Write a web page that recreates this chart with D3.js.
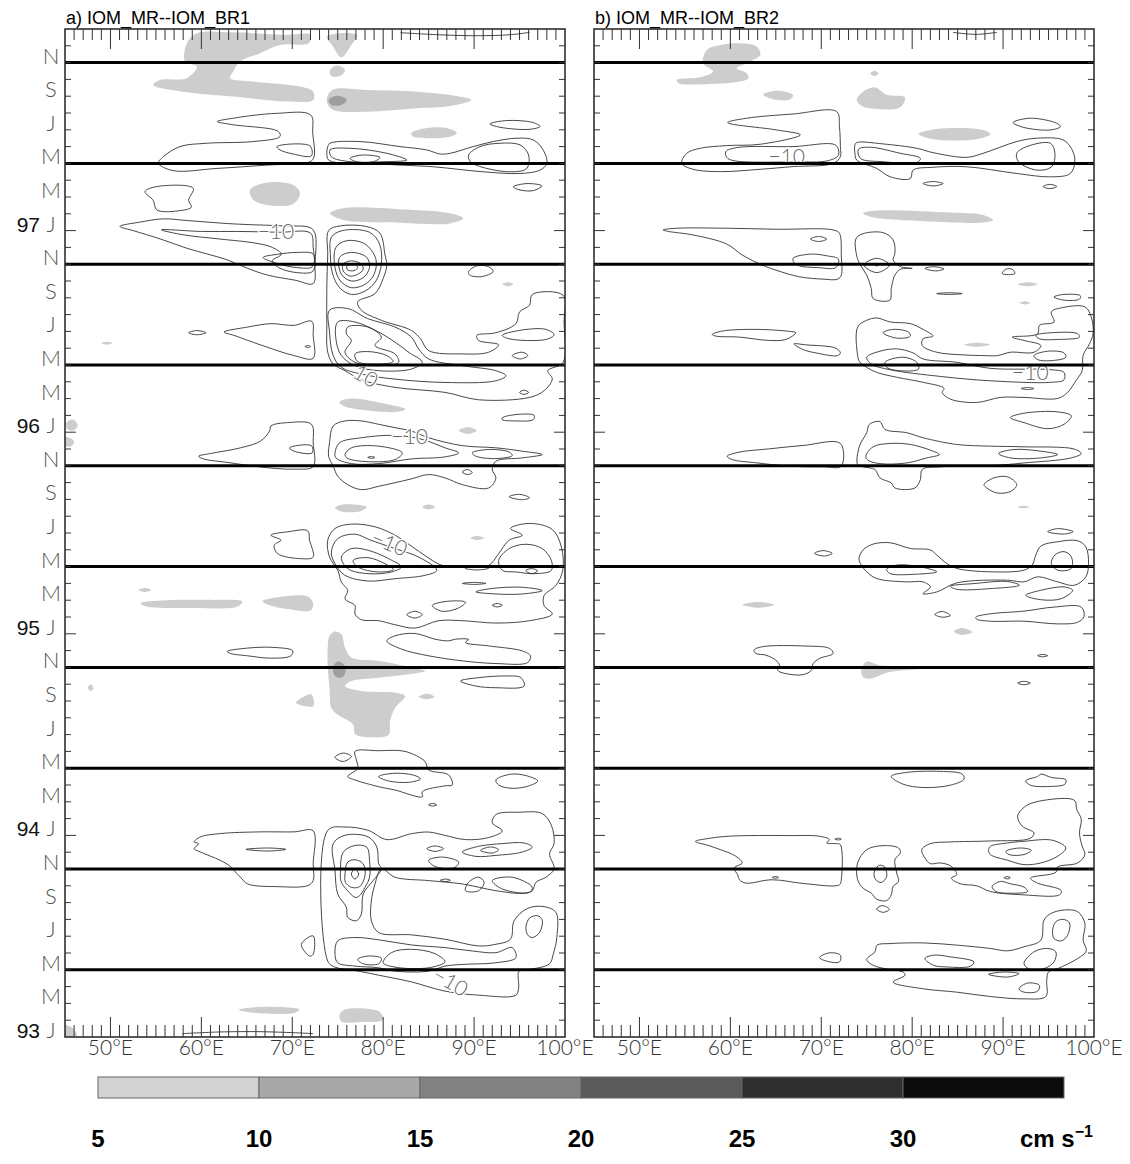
<!DOCTYPE html>
<html><head><meta charset="utf-8">
<script src="https://cdn.jsdelivr.net/npm/d3@7"></script>
<style>body{margin:0;background:#fff}svg{display:block}</style>
</head><body>
<svg id="chart" width="1130" height="1164"></svg>
<script>
// ---------------- DATA (lon °E, month index from Jan 1993) ----------------
const lonMajor = [50, 60, 70, 80, 90, 100];
const lonMinor = d3.range(46, 100);
const monthLetters = ['J','M','M','J','S','N'];
const yearLabels = ['93','94','95','96','97'];
const thickMonths = [4,10,16,22,28,34,40,46,52,58];
const panelTitles = ['a) IOM_MR--IOM_BR1', 'b) IOM_MR--IOM_BR2'];
const cbBounds = [5,10,15,20,25,30];
const cbColors = ['#d3d3d3','#a8a8a8','#828282','#5a5a5a','#2f2f2f','#0b0b0b'];
const shadeColors = ['#cdcdcd','#9e9e9e'];

// shaded areas panel a: [level, points]
const shadeA = [
 [1,[[58.2,58.06],[58.4,59.15],[59.5,59.75],[63.5,59.8],[69.0,59.65],[72.0,59.65],[71.8,59.15],[68.65,59.05],[66.45,58.56],[64.25,58.06],[63.5,57.47],[63.15,57.07],[65.7,56.87],[70.85,56.57],[72.3,56.27],[72.3,55.78],[69.4,55.68],[63.5,55.98],[58.0,56.27],[54.7,56.67],[55.45,56.97],[58.4,57.07],[59.5,57.76]]],
 [1,[[73.8,59.55],[77.1,59.65],[76.5,59.05],[75.4,58.32],[74.5,58.95]]],
 [1,[[74.15,57.52],[74.9,57.82],[75.8,57.56],[75.25,57.2],[74.3,57.2]]],
 [1,[[73.85,55.98],[74.5,56.4],[78.2,56.37],[83.7,56.27],[87.35,56.07],[89.7,55.78],[87.35,55.42],[83.7,55.28],[78.2,55.08],[74.5,55.18],[73.85,55.58]]],
 [2,[[74.0,55.78],[74.9,56.02],[76.0,55.78],[75.4,55.48],[74.3,55.48]]],
 [1,[[83.1,53.8],[84.8,54.1],[87.0,54.1],[88.1,53.8],[87.0,53.55],[84.8,53.5],[83.3,53.6]]],
 [1,[[65.35,50.42],[67.2,50.86],[70.1,50.72],[70.85,50.23],[70.1,49.59],[67.2,49.53],[65.7,49.83]]],
 [1,[[74.15,49.03],[75.6,49.33],[81.85,49.27],[87.35,49.03],[88.8,48.73],[87.35,48.43],[81.85,48.47],[75.6,48.63]]],
 [1,[[93.1,44.8],[93.7,44.92],[94.3,44.8],[93.7,44.68]]],
 [1,[[75.2,37.8],[76.5,38.0],[79.5,37.77],[82.45,37.37],[81.3,37.2],[77.6,37.33],[75.6,37.57]]],
 [1,[[45.2,36.6],[45.9,36.75],[46.4,36.4],[45.9,36.1],[45.2,36.2]]],
 [1,[[45.0,35.7],[45.6,35.65],[46.0,35.4],[45.6,35.15],[45.0,35.2]]],
 [1,[[88.3,36.1],[89.3,36.3],[90.3,36.1],[89.3,35.9]]],
 [1,[[74.7,31.5],[75.5,31.7],[78.2,31.55],[77.5,31.3],[75.3,31.3]]],
 [1,[[84.3,31.55],[85.0,31.7],[85.7,31.55],[85.0,31.4]]],
 [1,[[49.0,41.3],[49.6,41.38],[50.2,41.3],[49.6,41.22]]],
 [1,[[53.1,26.6],[53.8,26.72],[54.5,26.6],[53.8,26.48]]],
 [1,[[53.3,25.82],[55.5,25.98],[61.0,26.02],[64.5,25.92],[64.0,25.62],[59.2,25.54],[54.0,25.62]]],
 [1,[[66.7,25.94],[68.4,26.18],[71.7,26.22],[72.3,25.78],[72.0,25.38],[70.2,25.42],[68.0,25.62]]],
 [1,[[89.6,29.7],[90.3,29.82],[91.1,29.7],[90.3,29.58]]],
 [1,[[74.1,23.88],[74.7,24.14],[75.4,23.98],[75.8,23.18],[76.5,22.59],[79.5,22.39],[83.1,21.99],[84.6,21.79],[82.8,21.59],[79.5,21.39],[76.5,21.19],[75.8,20.89],[77.6,20.59],[81.3,20.49],[82.4,20.29],[81.3,19.59],[80.75,18.79],[80.6,17.99],[78.7,17.84],[76.9,18.04],[76.7,18.59],[75.0,19.19],[74.3,19.59],[74.1,20.79],[73.9,21.99],[73.9,23.18]]],
 [2,[[74.5,21.99],[75.0,22.35],[75.7,22.15],[75.85,21.69],[75.4,21.39],[74.7,21.49]]],
 [1,[[70.4,19.89],[72.1,20.39],[72.3,19.69]]],
 [1,[[83.9,20.25],[84.8,20.43],[85.65,20.25],[84.8,20.1]]],
 [1,[[47.5,20.8],[47.9,21.0],[48.1,20.7],[47.8,20.6]]],
 [1,[[64.1,1.63],[66.5,1.79],[70.8,1.63],[70.2,1.43],[65.1,1.49]]],
 [1,[[75.2,1.33],[75.8,1.63],[79.5,1.53],[80.0,1.03],[77.6,0.89],[75.4,0.93]]],
 [1,[[44.6,0.7],[45.8,0.55],[46.3,0.1],[44.6,-0.3]]]
];

// closed contours panel a
const contourA = [
 [[55.27,52.01],[55.82,52.4],[57.65,53.0],[60.6,53.2],[65.7,53.3],[68.65,53.6],[68.47,53.9],[63.5,54.3],[61.76,54.49],[63.5,54.69],[68.3,54.98],[72.03,54.88],[72.25,53.8],[72.4,52.4],[71.95,52.1],[67.2,51.9],[61.7,51.7],[56.9,51.57]],
 [[68.3,53.0],[71.95,53.04],[72.1,52.45],[70.1,52.56],[68.65,52.8]],
 [[53.8,50.32],[55.1,50.62],[59.1,50.52],[58.6,49.8],[58.9,49.4],[57.8,49.2],[55.1,49.23],[54.7,49.8]],
 [[51.05,48.25],[53.2,48.5],[55.8,48.7],[58.4,48.6],[63.5,48.4],[69.0,48.28],[71.95,48.18],[72.5,47.84],[72.5,46.0],[72.3,44.85],[70.3,45.05],[67.3,45.35],[65.1,45.75],[62.9,46.25],[60.7,46.6],[58.4,46.95],[55.5,47.5],[52.5,48.0]],
 [[55.6,48.05],[60,47.95],[64,47.95],[68.5,47.9],[72.0,47.85],[72.3,47.0],[72.3,45.6],[70.5,45.5],[68.5,45.8],[67.8,46.2],[68.8,46.6],[67.8,47.0],[66,47.25],[62,47.5],[58,47.75]],
 [[66.8,46.4],[68.3,46.05],[70.5,45.8],[72.2,45.85],[72.3,46.6],[70.5,46.7],[68.5,46.6]],
 [[73.9,46.55],[73.8,44.55],[73.8,42.56],[73.9,40.76],[74.5,40.06],[75.8,39.66],[77.6,39.12],[81.3,38.67],[86.8,38.37],[90.5,37.93],[96.1,38.07],[97.7,38.47],[98.6,39.17],[98.1,39.66],[99.8,40.16],[99.9,42.56],[99.8,44.15],[96.4,44.2],[96.1,43.56],[95.0,43.16],[94.6,42.46],[92.4,41.92],[90.3,41.76],[90.5,41.46],[92.7,41.2],[91.6,40.76],[88.7,40.66],[85.0,40.86],[84.1,41.56],[83.1,42.06],[79.8,42.66],[77.6,43.26],[77.2,43.76],[79.1,44.25],[80.0,45.15],[80.4,45.95],[80.2,46.55],[79.65,47.84],[78.2,48.24],[75.25,48.28],[74.0,48.0]],
 [[74.3,47.6],[75.5,48.0],[78.5,47.9],[79.6,47.2],[79.8,46.0],[79.2,45.0],[78,44.4],[76.5,44.2],[75.2,44.6],[74.4,45.5],[74.2,46.5]],
 [[74.8,47.0],[76,47.4],[78,47.2],[79.2,46.3],[79.0,45.4],[78,44.8],[76.5,44.6],[75.3,45.0],[74.7,45.8]],
 [[75.2,46.4],[76.5,46.7],[78.2,46.4],[78.5,45.8],[77.8,45.2],[76.5,45.0],[75.4,45.4]],
 [[75.6,46.0],[76.5,46.2],[77.6,46.0],[77.8,45.7],[77.2,45.4],[76.3,45.3],[75.6,45.6]],
 [[76.0,45.9],[76.8,46.0],[77.2,45.8],[76.8,45.62],[76.1,45.66]],
 [[74.1,43.26],[76.1,43.36],[78.3,42.76],[81.3,42.26],[83.1,41.66],[83.9,40.96],[85.0,40.36],[88.7,39.96],[92.4,39.66],[93.5,39.36],[92.4,39.06],[86.8,38.96],[81.3,39.16],[77.6,39.46],[75.4,39.86],[74.5,40.56],[74.1,41.96]],
 [[75.0,42.56],[76.9,42.56],[79.5,41.96],[81.3,41.36],[82.8,40.76],[84.3,40.16],[83.1,39.76],[79.5,39.66],[76.9,39.96],[75.4,40.56],[74.8,41.56]],
 [[76.1,42.26],[78.3,42.26],[79.8,41.66],[79.1,41.16],[81.3,40.66],[81.7,40.16],[79.5,39.96],[76.9,40.16],[75.8,40.76],[76.5,41.46],[75.95,41.86]],
 [[76.9,40.66],[78.3,40.8],[80.4,40.56],[81.1,40.2],[79.5,40.06],[77.2,40.2]],
 [[93.1,41.76],[95.0,42.06],[97.9,42.12],[98.8,41.8],[97.9,41.52],[93.85,41.56]],
 [[94.2,40.56],[95.3,40.76],[95.9,40.56],[95.1,40.36]],
 [[95.0,38.37],[95.5,38.5],[96.0,38.37],[95.5,38.25]],
 [[89.4,45.56],[90.3,45.9],[91.6,45.85],[92.1,45.56],[90.8,45.26],[89.5,45.36]],
 [[58.6,41.92],[59.5,42.05],[60.5,41.92],[59.5,41.8]],
 [[62.5,41.96],[65.1,42.26],[67.65,42.46],[70.2,42.36],[72.15,42.6],[72.3,41.76],[72.3,40.4],[70.2,40.56],[66.5,41.2],[63.6,41.76]],
 [[71.4,41.1],[71.7,41.16],[72.0,41.1],[71.7,41.04]],
 [[73.9,53.0],[74.15,53.2],[77.45,53.3],[81.85,53.0],[84.8,52.8],[86.25,52.56],[87.35,52.6],[89.9,53.0],[92.1,53.3],[94.7,53.5],[96.5,53.4],[97.6,52.8],[98.0,52.0],[97.25,51.6],[95.05,51.4],[91.0,51.5],[85.5,51.8],[81.85,51.9],[78.2,52.0],[76.35,52.0],[74.0,52.2],[73.8,52.6]],
 [[74.15,52.8],[76.35,52.9],[80.4,52.6],[82.6,52.2],[80.0,52.1],[76.35,52.1],[74.3,52.4]],
 [[76.35,52.3],[77.8,52.5],[79.65,52.35],[78.9,52.1],[77.1,52.1]],
 [[89.4,52.5],[90.65,53.0],[92.85,53.2],[95.05,53.1],[96.0,52.5],[95.8,51.7],[94.3,51.5],[91.4,51.7],[89.6,52.1]],
 [[91.75,54.35],[93.6,54.55],[96.5,54.43],[97.25,54.2],[96.15,54.03],[92.85,54.15]],
 [[94.3,50.6],[95.8,50.8],[97.45,50.66],[96.5,50.38],[95.05,50.42]],
 [[93.1,36.85],[94.6,37.05],[96.6,37.0],[96.5,36.75],[94.6,36.67],[93.1,36.75]],
 [[59.7,34.57],[61.0,34.73],[64.3,35.07],[66.5,35.47],[67.5,36.07],[67.65,36.37],[69.5,36.57],[72.1,36.47],[72.3,35.37],[72.3,33.96],[70.2,33.8],[66.5,33.93],[62.9,34.2],[60.3,34.4]],
 [[69.7,35.07],[72.1,35.2],[72.2,34.77],[70.2,34.87]],
 [[74.1,35.37],[74.5,36.37],[75.8,36.67],[77.6,36.67],[79.5,36.47],[81.3,36.27],[83.1,36.07],[85.0,35.67],[88.7,35.2],[92.4,35.07],[95.3,34.87],[97.5,34.67],[95.3,34.47],[92.4,34.27],[92.0,33.77],[92.4,33.28],[91.6,32.68],[88.7,32.88],[86.8,33.28],[85.0,33.48],[83.1,33.22],[79.5,32.78],[77.6,32.58],[76.1,32.88],[75.0,33.38],[74.5,33.98],[74.0,34.57]],
 [[74.7,34.77],[75.2,35.37],[77.6,35.67],[81.3,35.81],[84.3,35.57],[86.8,35.07],[88.3,34.77],[86.8,34.53],[83.1,34.41],[79.5,34.13],[76.5,34.13],[74.8,34.47]],
 [[75.8,34.67],[76.5,35.07],[79.5,35.17],[82.1,34.77],[81.3,34.37],[77.6,34.27],[76.0,34.47]],
 [[78.3,34.5],[78.7,34.55],[79.1,34.5],[78.7,34.45]],
 [[89.8,34.77],[91.6,34.97],[93.9,34.81],[94.2,34.61],[92.4,34.43],[90.2,34.57]],
 [[88.7,33.63],[89.25,33.78],[89.8,33.6],[89.25,33.48]],
 [[93.85,32.16],[95.0,32.3],[96.1,32.1],[95.3,31.98]],
 [[67.65,29.87],[69.5,30.07],[71.7,30.13],[71.9,29.57],[72.3,28.57],[71.0,28.47],[68.4,28.77],[68.0,29.27],[68.75,29.57]],
 [[73.9,29.57],[74.7,30.27],[76.5,30.53],[79.1,30.37],[81.3,29.87],[83.5,29.07],[85.4,28.37],[86.5,28.07],[89.05,27.98],[91.6,28.07],[92.7,28.77],[93.85,29.57],[95.3,29.87],[94.0,30.27],[96.1,30.57],[98.6,30.21],[99.6,29.17],[99.75,27.78],[99.0,26.88],[97.7,26.28],[97.7,25.68],[98.6,25.18],[96.1,24.78],[92.4,24.64],[88.7,24.78],[86.1,24.78],[83.5,24.34],[81.3,24.54],[79.5,24.78],[77.6,24.84],[76.9,25.18],[76.9,25.68],[75.8,26.08],[76.1,26.58],[75.4,27.08],[75.0,27.78],[74.1,28.57]],
 [[74.3,28.87],[75.0,29.67],[76.9,29.93],[78.5,29.6],[81.3,29.07],[83.9,28.57],[85.9,27.78],[84.6,27.48],[81.3,27.28],[78.35,27.14],[75.8,27.48],[74.7,28.17]],
 [[75.4,28.57],[76.5,29.07],[78.35,28.97],[80.6,28.47],[82.0,27.98],[80.9,27.68],[78.35,27.58],[76.1,27.88]],
 [[76.7,28.37],[78.35,28.53],[80.2,28.17],[81.1,27.82],[79.5,27.68],[77.2,27.98]],
 [[92.7,28.37],[93.85,29.07],[95.7,29.33],[97.5,29.07],[98.5,28.37],[98.5,27.78],[96.8,27.58],[94.6,27.68],[93.1,27.78]],
 [[95.7,27.78],[96.4,27.88],[97.0,27.74],[96.25,27.58]],
 [[89.0,27.9],[90.3,28.02],[91.6,27.9],[90.3,27.8]],
 [[88.7,27.0],[90.0,27.06],[91.3,27.0],[90.0,26.94]],
 [[90.2,26.5],[92.0,26.7],[95.3,26.77],[97.5,26.57],[95.3,26.37],[92.4,26.37]],
 [[85.4,25.68],[86.8,25.92],[89.05,25.88],[88.3,25.54],[86.5,25.34]],
 [[82.6,25.14],[83.5,25.34],[84.3,25.14],[83.5,24.94]],
 [[92.0,25.7],[92.55,25.8],[93.1,25.7],[92.55,25.6]],
 [[62.85,22.95],[65.1,23.15],[68.0,23.19],[70.05,22.99],[69.85,22.69],[67.6,22.55],[65.1,22.69],[63.2,22.83]],
 [[80.4,23.58],[81.3,23.88],[83.5,24.02],[85.7,23.68],[87.2,23.58],[87.95,23.68],[89.4,23.66],[89.05,23.48],[91.6,23.28],[95.3,22.98],[96.2,22.69],[95.9,22.29],[92.4,22.23],[88.7,22.39],[85.0,22.69],[82.0,23.09]],
 [[88.5,21.19],[90.5,21.39],[93.5,21.49],[95.15,21.39],[95.5,20.89],[92.4,20.79],[90.2,20.89]],
 [[74.7,16.65],[75.6,16.9],[76.5,16.7],[75.6,16.4]],
 [[76.9,17.0],[79.5,17.04],[82.4,17.0],[84.6,16.4],[85.0,15.9],[87.2,15.6],[87.6,15.0],[86.8,14.95],[84.3,14.6],[84.3,14.3],[81.3,14.7],[79.5,14.9],[76.9,15.3],[76.1,15.5],[77.2,16.0],[77.05,16.5]],
 [[79.5,15.5],[81.3,15.7],[83.5,15.56],[84.1,15.36],[82.8,15.16],[80.6,15.24]],
 [[92.4,15.3],[94.0,15.64],[95.7,15.56],[97.0,15.24],[96.1,14.96],[94.2,14.8],[92.7,15.0]],
 [[85.0,13.82],[85.45,13.9],[85.9,13.82],[85.45,13.75]],
 [[73.9,12.3],[75.8,12.5],[78.35,12.3],[80.4,11.75],[83.1,12.1],[85.0,12.2],[86.8,12.0],[89.05,11.75],[91.6,11.87],[93.1,12.27],[92.0,12.75],[92.4,13.24],[94.95,13.38],[97.5,13.3],[98.5,12.6],[98.8,11.51],[98.3,10.91],[98.8,10.01],[97.9,9.51],[96.8,9.21],[96.4,8.71],[95.3,8.55],[92.4,8.71],[88.7,9.11],[85.0,9.31],[81.3,9.51],[79.8,10.01],[79.1,9.11],[78.7,8.11],[78.7,6.92],[79.5,6.22],[83.1,6.08],[86.8,5.82],[90.5,5.42],[92.4,5.52],[94.0,5.82],[94.4,6.92],[95.9,7.66],[97.7,7.76],[99.0,7.42],[99.1,5.92],[98.7,4.92],[98.3,4.36],[96.1,4.02],[94.95,3.92],[94.9,2.93],[94.6,2.49],[90.5,2.49],[86.8,2.73],[83.1,3.28],[79.5,3.68],[76.9,3.96],[74.7,4.16],[73.9,4.52]],
 [[74.7,9.91],[74.5,11.51],[75.8,12.01],[78.35,11.91],[79.3,11.31],[79.5,10.31],[79.8,10.01],[78.9,9.31],[77.8,8.51],[77.6,7.32],[77.05,6.92],[76.1,7.12],[75.95,7.72],[75.0,8.51]],
 [[75.3,9.91],[75.6,11.0],[76.9,11.4],[78.2,11.3],[78.5,10.51],[78.5,9.51],[78.0,8.91],[77.4,8.41],[76.9,8.31],[76.1,8.71],[75.4,9.21]],
 [[75.8,9.71],[76.1,10.41],[76.9,10.55],[77.8,10.31],[78.0,9.61],[77.4,8.95],[76.5,8.91],[75.85,9.21]],
 [[76.5,9.7],[76.9,10.0],[77.3,9.7],[76.9,9.4]],
 [[74.7,4.92],[75.0,5.72],[76.9,5.92],[79.8,5.76],[83.1,5.48],[86.8,5.32],[89.8,5.12],[92.4,5.02],[94.2,5.32],[94.6,4.72],[92.4,4.42],[88.7,4.32],[86.8,4.22],[85.0,3.92],[81.3,3.92],[79.5,4.12],[76.9,4.22],[75.0,4.42]],
 [[77.2,4.62],[78.35,4.82],[79.8,4.68],[79.5,4.36],[77.8,4.36]],
 [[80.9,5.02],[83.1,5.22],[85.7,4.96],[86.8,4.48],[85.0,4.12],[81.3,4.16],[80.0,4.42]],
 [[95.7,6.52],[96.1,7.08],[97.0,7.22],[97.5,6.96],[97.2,6.22],[96.4,5.92],[95.9,6.08]],
 [[72.3,6.02],[71.0,5.52],[71.9,4.82],[72.3,4.92]],
 [[84.8,11.21],[85.7,11.37],[86.65,11.21],[85.7,11.05]],
 [[88.7,11.01],[90.5,11.35],[93.1,11.51],[95.5,11.55],[96.4,11.31],[95.3,11.01],[92.4,10.81],[90.2,10.75]],
 [[90.7,11.11],[91.8,11.31],[92.7,11.15],[92.0,10.95]],
 [[85.0,10.51],[86.5,10.71],[88.3,10.41],[87.8,10.07],[85.7,10.15]],
 [[89.05,8.71],[89.4,9.21],[90.5,9.51],[91.1,9.21],[90.5,8.71]],
 [[92.0,9.31],[94.2,9.51],[96.4,8.91],[96.1,8.61],[93.1,8.81]],
 [[86.3,9.33],[86.85,9.4],[87.4,9.33],[86.85,9.25]],
 [[59.2,11.61],[59.9,11.91],[62.1,12.11],[66.5,12.21],[70.2,12.21],[72.3,12.27],[72.3,10.31],[72.3,9.31],[71.7,9.01],[68.4,8.95],[65.1,9.11],[64.3,9.51],[63.6,9.91],[63.2,10.15],[62.1,10.51],[59.9,11.01],[59.2,11.21],[59.7,11.51]],
 [[64.9,11.17],[67.3,11.25],[69.3,11.17],[67.3,11.07]]
];
const lineA = [
 [[57.9,0.2],[62,0.3],[66,0.32],[70,0.26],[72.3,0.2]],
 [[81.9,59.78],[86,59.66],[90,59.6],[94,59.66],[96.1,59.8]]
];
const labelA = [[68.2,47.95,0,'\u221210'],[78.1,39.35,30,'10'],[82.9,35.75,0,'\u221210'],[80.7,29.4,22,'\u221210'],[87.4,3.3,30,'\u221210']];

// shaded areas panel b
const shadeB = [
 [1,[[57.0,57.96],[57.4,58.75],[58.9,59.05],[61.1,59.15],[62.9,58.95],[63.3,58.46],[61.8,57.96],[60.7,57.66],[61.8,57.37],[62.0,57.07],[60.3,56.81],[57.8,56.73],[54.3,56.77],[54.1,56.97],[56.7,57.13],[58.1,57.47]]],
 [1,[[63.6,56.1],[65.1,56.33],[66.9,56.08],[66.6,55.82],[64.7,55.82]]],
 [1,[[73.9,55.78],[74.6,56.27],[75.9,56.53],[77.2,56.08],[79.2,55.94],[78.7,55.34],[76.8,55.22],[74.6,55.38]]],
 [1,[[75.4,57.35],[75.85,57.5],[76.3,57.35],[75.85,57.2]]],
 [1,[[80.7,53.75],[82.7,54.05],[87.8,53.99],[88.6,53.75],[87.1,53.44],[82.3,53.44]]],
 [1,[[74.6,49.03],[76.1,49.19],[84.2,49.07],[87.8,48.93],[88.9,48.63],[87.8,48.48],[82.3,48.54],[75.4,48.83]]],
 [1,[[91.6,44.8],[92.7,44.92],[93.8,44.8],[92.7,44.68]]],
 [1,[[91.8,43.7],[92.4,43.8],[93.0,43.7],[92.4,43.6]]],
 [1,[[85.7,41.2],[87.1,41.32],[88.6,41.2],[87.1,41.08]]],
 [1,[[91.6,31.55],[92.25,31.62],[92.9,31.55],[92.25,31.48]]],
 [1,[[61.3,25.73],[63.2,25.89],[64.8,25.73],[63.2,25.55]]],
 [1,[[84.6,24.14],[85.5,24.34],[86.6,24.1],[85.5,23.93]]],
 [1,[[74.4,21.83],[75.0,22.33],[76.4,22.13],[82.0,21.97],[77.55,21.73],[75.3,21.33],[74.6,21.43]]]
];

const contourB = [
 [[54.65,52.0],[55.2,52.6],[56.7,52.9],[59.6,53.06],[63.3,53.14],[67.7,53.7],[65.1,53.99],[59.7,54.43],[61.8,54.69],[66.9,54.94],[71.7,55.08],[72.0,54.19],[72.1,53.0],[72.1,52.4],[71.3,52.0],[66.9,51.81],[63.3,51.65],[58.9,51.51],[55.9,51.65]],
 [[59.5,52.7],[60.7,52.94],[66.9,53.0],[71.6,53.08],[71.9,52.5],[70.8,52.17],[66.9,52.09],[60.3,52.17],[59.6,52.36]],
 [[73.7,53.1],[73.9,53.24],[76.8,53.16],[80.5,52.9],[82.3,52.64],[86.0,52.36],[87.8,52.6],[91.5,53.3],[93.7,53.5],[96.6,53.4],[97.5,52.9],[97.9,52.2],[97.4,51.4],[95.2,51.2],[91.5,51.4],[86.0,51.8],[82.3,51.77],[80.1,51.6],[79.8,51.1],[77.6,51.2],[76.1,51.7],[73.9,52.2],[73.7,52.6]],
 [[74.1,52.84],[75.4,52.96],[78.7,52.6],[80.9,52.3],[80.5,52.05],[76.8,52.1],[74.3,52.3]],
 [[91.5,52.6],[92.6,53.0],[95.2,53.2],[95.7,52.6],[95.35,51.8],[93.7,51.6],[91.7,52.1]],
 [[91.1,54.43],[93.0,54.69],[95.9,54.39],[96.3,54.19],[95.2,53.99],[92.2,54.15]],
 [[81.2,50.8],[82.3,50.92],[83.4,50.8],[82.3,50.66]],
 [[94.4,50.62],[95.15,50.75],[95.9,50.62],[95.15,50.5]],
 [[52.6,48.04],[54.1,48.14],[59.6,48.14],[65.1,48.08],[71.3,48.04],[72.0,47.84],[72.2,46.5],[72.2,45.35],[71.8,45.11],[70.2,45.11],[67.6,45.25],[65.0,45.65],[63.5,45.95],[61.3,46.55],[59.6,47.2],[55.9,47.74],[53.2,47.95]],
 [[68.8,47.5],[69.7,47.65],[70.6,47.5],[69.7,47.35]],
 [[66.9,46.35],[68.8,46.6],[70.6,46.5],[71.9,46.3],[71.6,45.8],[69.6,45.8],[67.6,45.9],[67.0,46.1]],
 [[73.8,47.5],[74.5,47.8],[76.8,47.88],[77.9,47.45],[78.1,46.65],[77.9,46.26],[78.7,45.86],[80.0,45.75],[78.7,45.7],[78.1,45.35],[77.7,44.55],[77.55,43.86],[75.7,43.96],[75.5,44.55],[75.0,45.35],[74.3,45.95],[73.9,46.5]],
 [[74.7,45.95],[76.1,46.35],[77.5,45.95],[76.1,45.5]],
 [[75.9,45.95],[76.1,46.0],[76.3,45.95],[76.1,45.9]],
 [[81.4,45.75],[82.4,45.85],[83.5,45.72],[82.6,45.6]],
 [[89.9,45.45],[90.3,45.7],[91.0,45.7],[91.3,45.45],[90.6,45.38]],
 [[82.7,44.25],[84.1,44.3],[85.5,44.25],[84.1,44.2]],
 [[95.6,44.05],[96.7,44.2],[98.5,44.12],[98.4,43.92],[96.7,43.86]],
 [[58.0,41.82],[59.1,42.02],[62.8,42.12],[66.5,42.0],[67.2,41.92],[66.1,41.52],[64.3,41.46],[61.0,41.66],[58.4,41.72]],
 [[67.0,41.26],[68.3,41.2],[71.6,41.0],[72.1,40.72],[71.8,40.56],[69.4,40.72],[68.0,40.92]],
 [[74.0,40.56],[74.0,42.26],[75.0,42.66],[76.1,42.8],[77.6,42.56],[79.8,42.46],[81.2,42.12],[82.3,41.72],[81.2,41.56],[81.1,41.16],[82.7,40.76],[85.7,40.6],[87.9,40.56],[89.4,40.56],[90.8,40.76],[93.4,40.76],[94.15,41.16],[92.3,41.46],[91.0,41.66],[93.8,41.86],[94.0,42.36],[95.6,42.56],[95.3,43.16],[96.4,43.4],[99.0,43.46],[99.7,42.86],[99.9,41.86],[99.5,41.26],[98.8,40.56],[98.7,39.66],[98.0,39.06],[97.1,38.37],[96.0,38.01],[92.3,38.07],[89.7,38.07],[87.1,37.77],[84.2,37.97],[83.3,38.37],[83.5,38.61],[81.2,38.97],[78.3,39.27],[76.1,39.56],[75.0,39.86],[74.2,40.2]],
 [[76.8,41.92],[77.9,42.12],[79.6,41.96],[79.8,41.72],[78.3,41.6]],
 [[75.0,40.46],[76.45,40.82],[78.3,40.96],[80.1,40.72],[81.2,40.36],[84.9,40.16],[88.6,39.8],[95.3,39.72],[96.7,39.56],[96.7,39.12],[95.3,38.97],[88.6,39.06],[83.1,39.32],[77.55,39.72],[75.5,40.06]],
 [[77.0,40.16],[79.0,40.46],[80.5,40.16],[80.7,39.76],[78.7,39.66],[77.2,39.86]],
 [[93.6,41.76],[95.3,41.92],[98.2,41.86],[98.4,41.66],[96.0,41.52],[94.0,41.56]],
 [[93.4,40.56],[94.9,40.82],[96.7,40.72],[96.9,40.46],[95.3,40.26],[93.8,40.32]],
 [[92.0,38.6],[92.7,38.66],[93.4,38.6],[92.7,38.54]],
 [[90.8,36.87],[92.3,37.13],[96.0,37.21],[97.5,36.97],[96.7,36.47],[94.9,36.21],[92.3,36.57]],
 [[59.65,34.57],[60.95,34.81],[64.3,35.01],[68.0,35.21],[72.1,35.33],[72.2,33.98],[70.2,33.94],[66.5,33.98],[62.8,34.18],[60.2,34.37]],
 [[74.0,34.07],[74.2,35.17],[75.0,35.97],[75.3,36.47],[76.45,36.63],[77.0,36.17],[79.4,35.97],[81.2,35.67],[84.9,35.27],[88.6,35.17],[92.3,35.13],[97.8,35.0],[98.6,34.73],[97.5,34.47],[92.3,34.17],[88.6,34.0],[83.1,33.94],[81.1,33.78],[80.9,33.18],[80.3,32.68],[78.1,32.68],[77.7,32.98],[76.45,33.28],[75.9,33.78],[74.6,33.94]],
 [[74.9,34.57],[75.7,35.13],[77.55,35.33],[79.8,35.27],[82.0,34.93],[83.0,34.67],[81.6,34.47],[79.4,34.17],[76.45,34.13],[75.15,34.33]],
 [[89.5,34.73],[91.2,34.97],[94.15,34.87],[96.0,34.67],[94.15,34.47],[90.8,34.47]],
 [[87.9,32.88],[89.0,33.28],[90.5,33.34],[91.5,32.88],[90.85,32.48],[89.35,32.38],[88.2,32.68]],
 [[94.9,30.08],[96.0,30.26],[97.7,30.08],[96.75,29.94]],
 [[74.15,28.49],[74.6,28.99],[75.7,29.34],[77.55,29.42],[79.8,29.08],[82.0,28.99],[82.7,28.69],[83.8,28.19],[84.9,27.89],[88.6,27.69],[92.3,27.79],[93.2,28.09],[93.6,28.69],[94.15,29.22],[96.0,29.48],[98.2,29.54],[99.1,29.18],[99.4,28.19],[99.1,27.39],[97.85,26.89],[96.0,27.09],[93.8,27.39],[92.3,27.09],[90.5,27.19],[84.9,27.03],[82.7,26.49],[81.2,26.39],[82.0,26.79],[81.2,27.09],[79.4,27.09],[76.1,27.29],[75.0,27.69],[74.4,28.09]],
 [[95.3,28.19],[95.7,28.69],[96.7,28.89],[97.5,28.59],[97.5,27.89],[96.0,27.79]],
 [[77.2,27.83],[78.3,28.09],[81.2,27.95],[82.7,27.69],[80.5,27.55],[77.55,27.59]],
 [[84.2,26.83],[86.8,26.99],[90.5,27.11],[91.8,26.89],[88.6,26.69],[84.9,26.65]],
 [[92.5,26.29],[94.15,26.59],[96.7,26.79],[97.65,26.59],[96.4,26.09],[94.15,26.03]],
 [[87.0,24.99],[88.6,25.19],[92.3,25.35],[95.6,25.59],[98.6,25.59],[98.9,25.03],[98.2,24.69],[96.0,24.59],[92.3,24.75],[88.6,24.75],[87.1,24.87]],
 [[82.5,25.15],[83.3,25.33],[84.2,25.09],[83.3,24.99]],
 [[69.25,28.79],[70.2,28.95],[71.2,28.79],[70.35,28.63]],
 [[62.6,23.03],[63.5,23.23],[68.3,23.27],[70.9,23.13],[71.3,22.83],[69.8,22.53],[69.1,22.23],[68.9,21.83],[68.0,21.57],[66.1,21.63],[65.2,21.83],[65.4,22.13],[65.0,22.43],[63.9,22.73],[62.8,22.83]],
 [[93.8,22.7],[94.35,22.77],[94.9,22.7],[94.35,22.63]],
 [[91.6,21.07],[92.3,21.17],[93.0,21.07],[92.3,20.97]],
 [[77.7,15.51],[79.4,15.75],[83.1,15.81],[85.5,15.65],[85.7,15.35],[84.2,14.99],[81.2,14.85],[79.0,15.05]],
 [[92.5,15.25],[93.8,15.51],[94.15,15.65],[95.3,15.45],[96.9,15.31],[96.8,15.05],[94.9,14.91],[93.0,14.99]],
 [[56.15,11.65],[57.25,11.79],[59.8,11.95],[66.5,11.99],[69.8,11.95],[70.9,11.75],[70.6,11.55],[71.65,11.51],[72.1,11.45],[72.2,9.36],[72.0,9.06],[68.3,9.12],[64.6,9.36],[61.7,9.16],[61.0,9.36],[60.8,9.66],[60.4,10.06],[61.3,10.36],[60.6,10.76],[58.4,11.25],[57.25,11.45],[56.5,11.55]],
 [[71.5,11.78],[71.9,11.83],[72.2,11.78],[71.9,11.73]],
 [[64.6,9.5],[64.95,9.55],[65.3,9.5],[64.95,9.45]],
 [[74.0,10.36],[75.0,11.15],[76.8,11.39],[78.5,11.25],[78.7,10.96],[78.1,10.56],[78.3,9.76],[78.5,9.26],[77.9,8.96],[77.7,8.46],[77.2,8.12],[76.1,8.2],[75.5,8.56],[74.6,8.86],[74.0,9.36]],
 [[75.8,9.76],[76.3,10.2],[76.9,10.16],[77.2,9.56],[76.6,9.2],[76.0,9.36]],
 [[76.1,7.62],[76.7,7.82],[77.5,7.6],[76.8,7.42]],
 [[81.05,11.15],[82.0,11.51],[84.2,11.61],[88.6,11.67],[93.0,11.83],[93.4,12.15],[92.1,12.55],[91.6,13.15],[92.5,13.75],[94.5,14.09],[97.85,14.09],[98.1,13.55],[98.6,12.95],[98.4,12.15],[98.7,11.35],[99.0,10.86],[98.2,10.36],[96.0,10.12],[95.8,9.8],[93.0,9.46],[93.8,9.16],[96.4,8.72],[96.2,8.46],[92.3,8.46],[88.6,8.66],[87.1,9.0],[85.3,9.12],[84.3,9.46],[84.9,9.66],[84.3,10.16],[83.1,10.36],[82.0,10.32],[81.4,10.66]],
 [[88.6,11.35],[90.5,11.55],[92.3,11.65],[95.45,11.71],[96.9,11.25],[96.0,10.76],[94.15,10.36],[92.3,10.26],[90.5,10.52],[88.6,10.86],[88.4,11.15]],
 [[90.3,11.05],[91.95,11.25],[93.1,11.11],[92.3,10.86],[90.65,10.86]],
 [[88.8,8.96],[89.7,9.26],[90.8,9.12],[92.3,8.92],[92.7,8.66],[90.8,8.56],[89.2,8.66]],
 [[90.1,9.48],[90.45,9.55],[90.8,9.48],[90.45,9.41]],
 [[75.0,4.61],[75.9,5.07],[76.15,5.47],[77.55,5.56],[81.2,5.6],[84.9,5.47],[88.6,5.27],[90.5,5.13],[92.3,5.37],[94.15,5.76],[94.5,6.96],[95.3,7.36],[96.75,7.56],[98.2,7.46],[99.0,6.76],[98.8,5.76],[99.15,5.13],[98.2,4.67],[96.0,4.07],[95.0,3.87],[94.8,3.37],[94.7,2.41],[92.3,2.27],[88.6,2.41],[84.9,2.67],[81.2,2.87],[77.9,3.27],[79.2,3.67],[79.0,3.87],[77.55,4.01],[75.7,4.27]],
 [[95.45,6.36],[95.8,6.86],[96.6,7.0],[97.3,6.8],[97.1,6.06],[96.4,5.72],[95.6,5.86]],
 [[92.3,4.37],[93.4,5.07],[94.9,5.27],[95.8,5.07],[95.6,4.47],[94.5,4.07],[93.0,4.01]],
 [[81.4,4.67],[82.35,4.87],[84.2,4.77],[86.8,4.47],[86.4,4.21],[83.8,4.17],[82.35,4.27]],
 [[69.8,4.73],[70.9,5.01],[72.1,4.87],[72.0,4.47],[70.5,4.53]],
 [[88.4,3.73],[90.1,3.87],[91.75,3.77],[90.5,3.57]],
 [[91.75,2.87],[92.7,3.21],[94.0,3.07],[93.8,2.73],[92.3,2.67]]
];
const lineB = [
 [[84.5,59.8],[87,59.68],[89.3,59.8]]
];
const labelB = [[66.2,52.42,0,'\u221210'],[93.0,39.55,0,'\u221210']];

// ---------------- DRAWING ----------------
const svg = d3.select('#chart');
const PW = 500, TOP = 29, BOT = 1037;
const panelX = [65, 594];
const y = d3.scaleLinear().domain([0, 60]).range([BOT, TOP]);
const lightFont = "Lato, 'Liberation Sans', Arial, sans-serif";

function drawPanel(i, shades, contours, lines, labels) {
  const x0 = panelX[i];
  const x = d3.scaleLinear().domain([45, 100]).range([x0, x0 + PW]);
  const g = svg.append('g');
  const cid = 'clip' + i;
  svg.append('clipPath').attr('id', cid).append('rect')
    .attr('x', x0).attr('y', TOP).attr('width', PW).attr('height', BOT - TOP);
  const inner = g.append('g').attr('clip-path', `url(#${cid})`);
  const closed = d3.line().x(d => x(d[0])).y(d => y(d[1])).curve(d3.curveCatmullRomClosed.alpha(0.5));
  const open = d3.line().x(d => x(d[0])).y(d => y(d[1])).curve(d3.curveCatmullRom.alpha(0.5));

  inner.selectAll('path.shade').data(shades).join('path')
    .attr('class','shade').attr('d', d => closed(d[1]))
    .attr('fill', d => shadeColors[d[0]-1]).attr('stroke', 'none');
  inner.selectAll('path.cont').data(contours).join('path')
    .attr('class','cont').attr('d', d => closed(d))
    .attr('fill', 'none').attr('stroke', '#333').attr('stroke-width', 0.9);
  inner.selectAll('path.ln').data(lines).join('path')
    .attr('class','ln').attr('d', d => open(d))
    .attr('fill', 'none').attr('stroke', '#333').attr('stroke-width', 0.9);
  inner.selectAll('text.cl').data(labels).join('text')
    .attr('class','cl')
    .attr('transform', d => `translate(${x(d[0])},${y(d[1])}) rotate(${d[2]})`)
    .attr('text-anchor','middle').attr('dy','0.36em')
    .attr('font-family', lightFont).attr('font-weight', 300).attr('font-size', 21).attr('fill', '#666')
    .attr('stroke', '#fff').attr('stroke-width', 3).attr('paint-order', 'stroke')
    .text(d => d[3]);

  // thick season lines
  g.selectAll('line.thick').data(thickMonths).join('line')
    .attr('x1', x0).attr('x2', x0 + PW).attr('y1', d => y(d)).attr('y2', d => y(d))
    .attr('stroke', '#000').attr('stroke-width', 3);

  // frame
  g.append('rect').attr('x', x0).attr('y', TOP).attr('width', PW).attr('height', BOT - TOP)
    .attr('fill', 'none').attr('stroke', '#222').attr('stroke-width', 1.5);

  // x ticks (top & bottom, inward)
  const tickG = g.append('g').attr('stroke', '#333').attr('stroke-width', 1);
  lonMinor.forEach(l => {
    const major = lonMajor.includes(l);
    const len = major ? 20 : 12;
    tickG.append('line').attr('x1', x(l)).attr('x2', x(l)).attr('y1', BOT).attr('y2', BOT - len);
    tickG.append('line').attr('x1', x(l)).attr('x2', x(l)).attr('y1', TOP).attr('y2', TOP + (major ? 20 : 11));
  });
  // y ticks (left & right, inward), monthly
  d3.range(1, 60).forEach(m => {
    const len = (m % 12 === 0) ? 11 : 6;
    tickG.append('line').attr('x1', x0).attr('x2', x0 + len).attr('y1', y(m)).attr('y2', y(m));
    tickG.append('line').attr('x1', x0 + PW).attr('x2', x0 + PW - len).attr('y1', y(m)).attr('y2', y(m));
  });

  // x labels
  g.selectAll('text.xl').data(lonMajor).join('text')
    .attr('x', d => x(d)).attr('y', 1055).attr('text-anchor', 'middle')
    .attr('font-family', lightFont).attr('font-weight', 300).attr('font-size', 21).attr('fill', '#333')
    .text(d => d + '\u00b0E');

  // title
  g.append('text').attr('x', x0 + 1).attr('y', 24)
    .attr('font-family', "'Liberation Sans', Arial, sans-serif").attr('font-size', 18).attr('fill', '#000')
    .text(panelTitles[i]);
}

drawPanel(0, shadeA, contourA, lineA, labelA);
drawPanel(1, shadeB, contourB, lineB, labelB);

// y labels (left panel only)
const yl = svg.append('g');
d3.range(0, 60, 2).forEach((m, k) => {
  yl.append('text').attr('x', 51).attr('y', y(m) + 1).attr('text-anchor', 'middle')
    .attr('font-family', lightFont).attr('font-weight', 300).attr('font-size', 22).attr('fill', '#555')
    .text(monthLetters[k % 6]);
  if (m % 12 === 0) {
    yl.append('text').attr('x', 40).attr('y', y(m) + 1).attr('text-anchor', 'end')
      .attr('font-family', "'Liberation Sans', Arial, sans-serif").attr('font-size', 21).attr('fill', '#111')
      .text(yearLabels[m / 12]);
  }
});

// colour bar
const cx = d3.scaleLinear().domain([5, 35]).range([98, 1064]);
const cb = svg.append('g');
cb.selectAll('rect').data(cbBounds).join('rect')
  .attr('x', d => cx(d)).attr('y', 1077).attr('width', d => cx(d + 5) - cx(d)).attr('height', 21)
  .attr('fill', (d, i) => cbColors[i]).attr('stroke', '#666').attr('stroke-width', 1);
cb.selectAll('text.cbl').data(cbBounds).join('text')
  .attr('class', 'cbl').attr('x', d => cx(d)).attr('y', 1147).attr('text-anchor', 'middle')
  .attr('font-family', "'Liberation Sans Narrow', 'Liberation Sans', Arial, sans-serif").attr('font-weight', 'bold')
  .attr('font-size', 24).attr('fill', '#000').text(d => d);
const unit = cb.append('text').attr('x', 1020).attr('y', 1147)
  .attr('font-family', "'Liberation Sans Narrow', 'Liberation Sans', Arial, sans-serif").attr('font-weight', 'bold')
  .attr('font-size', 24).attr('fill', '#000');
unit.append('tspan').text('cm s');
unit.append('tspan').attr('dy', -10).attr('font-size', 16).text('\u22121');
</script>
</body></html>
